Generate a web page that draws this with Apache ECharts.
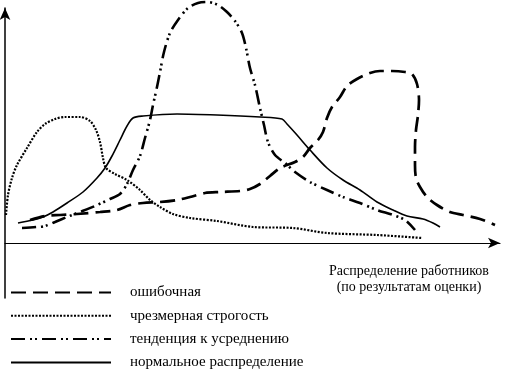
<!DOCTYPE html>
<html>
<head>
<meta charset="utf-8">
<script src="https://cdn.jsdelivr.net/npm/echarts@6/dist/echarts.min.js"></script>
<style>
html,body{margin:0;padding:0;background:#fff;}
#chart{width:522px;height:372px;}
</style>
</head>
<body>
<div id="chart"></div>
<script>
// Series names (legend)
const seriesNames = ['ошибочная', 'чрезмерная строгость', 'тенденция к усреднению', 'нормальное распределение'];
const axisTitle = 'Распределение работников\n(по результатам оценки)';

// [x, y] values
const errorData = [[25,23],[40,27],[55,28],[72,29],[95,31],[112,33],[125,38],[138,40],[155,41],[172,43],[185,46],[200,50],[215,51],[235,52],[245,54],[255,59],[265,67],[275,75],[290,81],[298,86],[305,95],[313,103],[318,111],[322,125],[327,136],[335,146],[342,157],[352,164],[365,170],[375,172],[387,172],[400,171],[407,169],[412,159],[414,143],[413,128],[411,113],[410,96],[410,78],[411,65],[415,56],[422,46],[432,38],[445,31],[458,28],[475,24],[490,18]];
const strictData = [[1,28],[3,48],[7,65],[12,78],[22,95],[32,111],[40,119],[50,124],[60,126],[75,126],[85,122],[91,113],[95,101],[98,85],[101,75],[110,69],[122,63],[135,53],[145,43],[155,36],[168,29],[185,25],[212,22],[248,16],[288,15],[322,10],[372,8],[417,5]];
const averageData = [[17,15],[32,16],[40,17],[50,21],[62,26],[75,31],[90,37],[105,44],[115,49],[122,59],[128,73],[135,87],[140,105],[145,123],[148,138],[152,156],[155,171],[159,191],[165,210],[173,223],[183,235],[193,240],[203,241],[213,238],[222,231],[230,222],[237,210],[241,195],[245,175],[250,158],[255,135],[259,118],[263,101],[270,88],[280,80],[290,71],[305,61],[322,53],[338,46],[355,40],[372,33],[388,28],[400,23],[410,13]];
const normalData = [[13,20],[28,23],[38,26],[48,31],[62,40],[78,51],[92,65],[100,75],[107,87],[115,103],[122,117],[128,125],[138,127],[172,129],[212,128],[255,126],[277,124],[282,119],[292,108],[305,93],[322,75],[338,63],[355,53],[372,41],[388,33],[402,27],[418,24],[428,20],[435,16]];

const chart = echarts.init(document.getElementById('chart'), null, {renderer: 'canvas'});
const serif = 'Liberation Serif';
function mk(name, data, type, width) {
  return {
    name: name, type: 'line', data: data, smooth: 0.3, symbol: 'none', clip: false,
    lineStyle: {color: '#000', width: width, type: type, cap: 'butt'},
    itemStyle: {color: '#000'},
    emphasis: {disabled: true}, animation: false
  };
}
chart.setOption({
  animation: false,
  grid: {left: 5, top: 8, width: 495, height: 290, containLabel: false},
  xAxis: {
    type: 'value', min: 0, max: 495,
    axisLine: {show: true, onZero: true, symbol: ['none', 'arrow'], symbolSize: [8, 12], lineStyle: {color: '#000', width: 1.2}},
    axisTick: {show: false}, axisLabel: {show: false}, splitLine: {show: false}
  },
  yAxis: {
    type: 'value', min: -55, max: 235,
    axisLine: {show: true, onZero: true, symbol: ['none', 'arrow'], symbolSize: [8, 12], lineStyle: {color: '#000', width: 1.5}},
    axisTick: {show: false}, axisLabel: {show: false}, splitLine: {show: false}
  },
  legend: {
    orient: 'vertical', left: 5, top: 280, height: 120, itemWidth: 100, itemHeight: 14, itemGap: 8.3,
    selectedMode: false,
    data: seriesNames,
    itemStyle: {opacity: 0},
    textStyle: {fontFamily: serif, fontSize: 15, color: '#000', padding: [2, 0, 0, 14]}
  },
  graphic: [{
    type: 'text', x: 409, y: 263,
    style: {text: axisTitle, font: '14px "Liberation Serif"', fill: '#000', textAlign: 'center', lineHeight: 16}
  }],
  series: [
    mk(seriesNames[0], errorData, [15, 7], 2.7),
    mk(seriesNames[1], strictData, [2, 1.5], 2.2),
    mk(seriesNames[2], averageData, [14, 5, 2, 3, 2, 5], 2.6),
    mk(seriesNames[3], normalData, 'solid', 1.6)
  ]
});
</script>
</body>
</html>
